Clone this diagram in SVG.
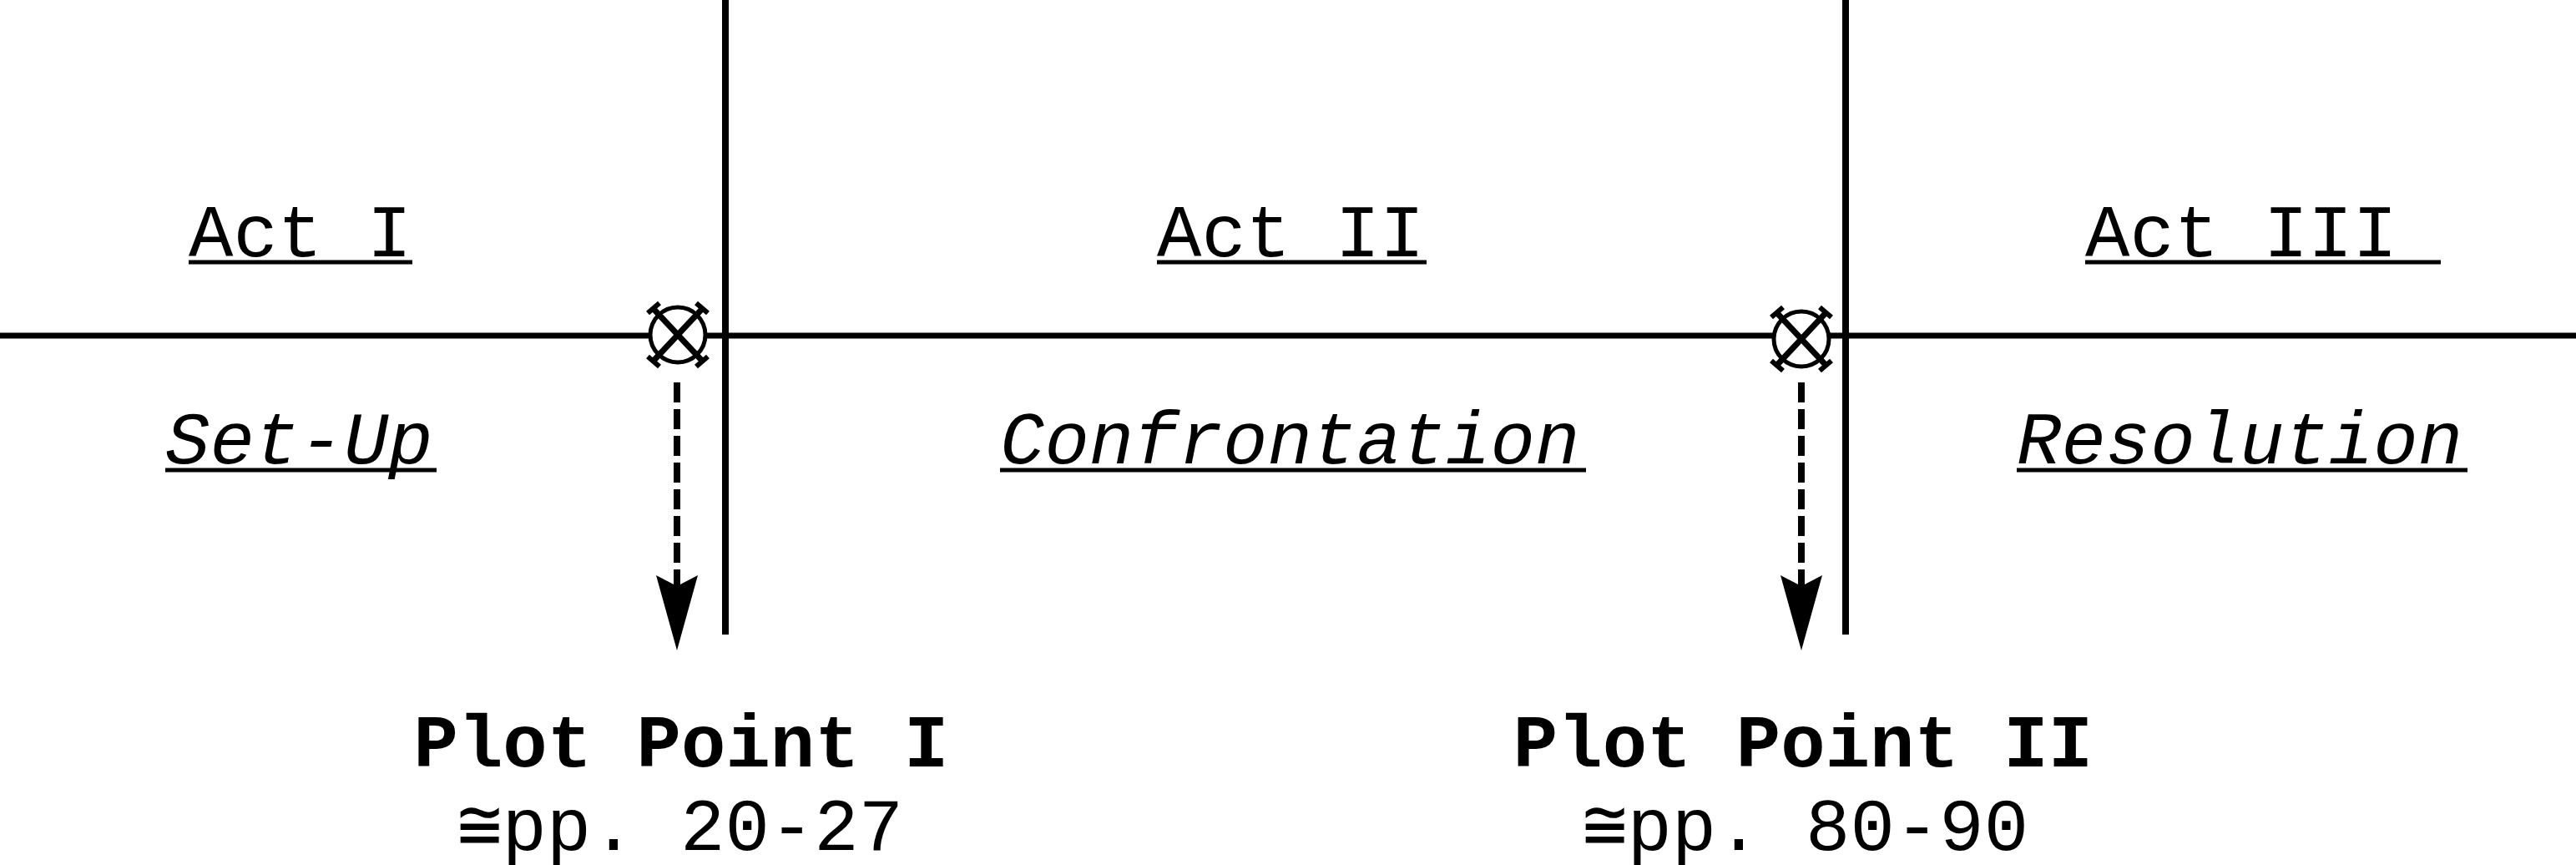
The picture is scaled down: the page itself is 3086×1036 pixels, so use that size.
<svg xmlns="http://www.w3.org/2000/svg" xmlns:xlink="http://www.w3.org/1999/xlink" width="3086" height="1036" viewBox="0 0 3086 1036">
  <style>
    text { font-family: "Liberation Mono", "DejaVu Sans Mono", monospace; font-size: 89px; fill: #000; }
    .act { font-style: normal; }
    .phase { font-style: italic; }
    .pp { font-weight: bold; }
    .ul { stroke: #000; stroke-width: 5; }
    .axis { stroke: #000; stroke-width: 7; fill: none; }
    .divider { stroke: #000; stroke-width: 8; fill: none; }
    .dash { stroke: #000; stroke-width: 8; stroke-dasharray: 24 8; fill: none; }
  </style>
  <defs>
    <marker id="head" markerUnits="userSpaceOnUse" markerWidth="92" markerHeight="52" viewBox="0 0 92 52" refX="14" refY="26" orient="auto">
      <path d="M1,1 L91,26 L1,51 L14,26 Z" fill="#000"/>
    </marker>
    <g id="xmark">
      <circle cx="0" cy="0" r="33" fill="#fff" stroke="#000" stroke-width="5"/>
      <line x1="-29" y1="-31" x2="29" y2="31" stroke="#000" stroke-width="7"/>
      <line x1="29" y1="-31" x2="-29" y2="31" stroke="#000" stroke-width="7"/>
      <line x1="-36" y1="-26" x2="-22" y2="-38" stroke="#000" stroke-width="6"/>
      <line x1="22" y1="-38" x2="36" y2="-26" stroke="#000" stroke-width="6"/>
      <line x1="-36" y1="26" x2="-22" y2="38" stroke="#000" stroke-width="6"/>
      <line x1="22" y1="38" x2="36" y2="26" stroke="#000" stroke-width="6"/>
    </g>
  </defs>

  <g id="frame">
    <line class="axis" x1="0" y1="402" x2="3086" y2="402"/>
    <line class="divider" x1="869" y1="0" x2="869" y2="760"/>
    <line class="divider" x1="2211" y1="0" x2="2211" y2="760"/>
  </g>

  <g id="act1">
    <text class="act" x="226" y="307">Act I</text>
    <line class="ul" x1="226" y1="314" x2="494" y2="314"/>
    <text class="phase" x="198" y="555">Set-Up</text>
    <line class="ul" x1="198" y1="563" x2="523" y2="563"/>
  </g>

  <g id="act2">
    <text class="act" x="1386" y="307">Act II</text>
    <line class="ul" x1="1386" y1="314" x2="1709" y2="314"/>
    <text class="phase" x="1198" y="555">Confrontation</text>
    <line class="ul" x1="1198" y1="563" x2="1900" y2="563"/>
  </g>

  <g id="act3">
    <text class="act" x="2498" y="307">Act III</text>
    <line class="ul" x1="2498" y1="314" x2="2924" y2="314"/>
    <text class="phase" x="2416" y="555">Resolution</text>
    <line class="ul" x1="2416" y1="563" x2="2956" y2="563"/>
  </g>

  <g id="marker1">
    <use xlink:href="#xmark" href="#xmark" x="812" y="401"/>
  </g>
  <g id="marker2">
    <use xlink:href="#xmark" href="#xmark" x="2158" y="406"/>
  </g>

  <g id="connectors">
    <line class="dash" x1="811" y1="458" x2="811" y2="702" marker-end="url(#head)"/>
    <line class="dash" x1="2158" y1="458" x2="2158" y2="702" marker-end="url(#head)"/>
  </g>

  <g id="plotpoint1">
    <text class="pp" x="816" y="918" text-anchor="middle">Plot Point I</text>
    <text x="815" y="1018" text-anchor="middle">≅pp. 20-27</text>
  </g>
  <g id="plotpoint2">
    <text class="pp" x="2160" y="918" text-anchor="middle">Plot Point II</text>
    <text x="2163" y="1018" text-anchor="middle">≅pp. 80-90</text>
  </g>
</svg>
